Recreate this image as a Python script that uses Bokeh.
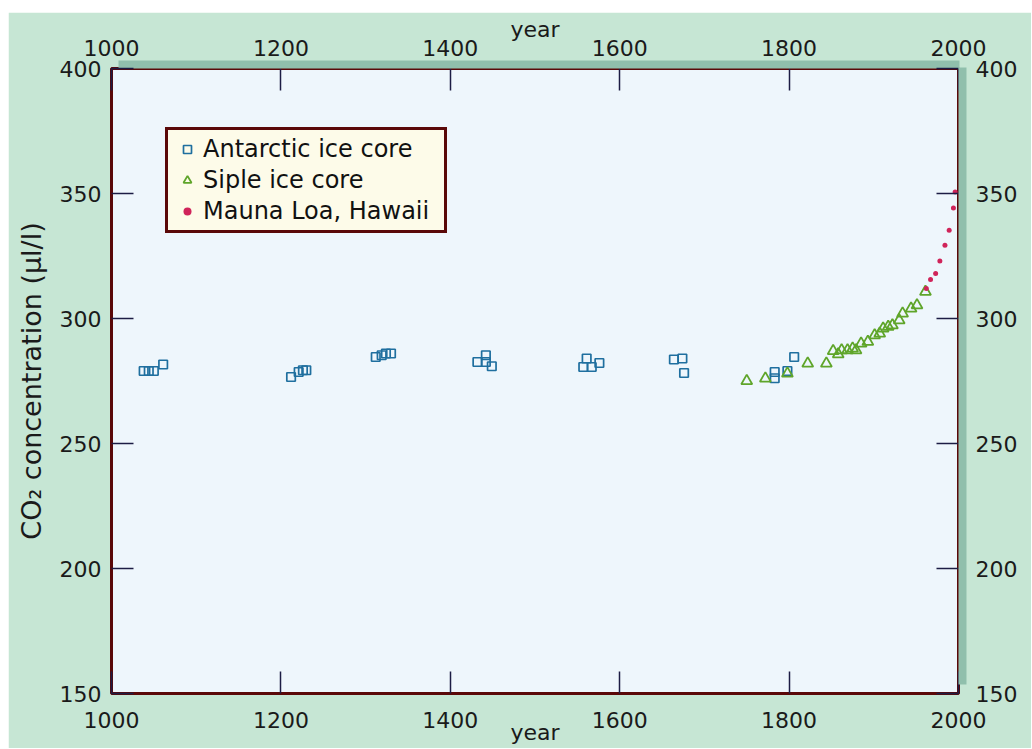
from bokeh.plotting import figure
from bokeh.layouts import column, row
from bokeh.models import Range1d, LinearAxis, FixedTicker, Spacer
from bokeh.embed import file_html
from bokeh.resources import INLINE

# ---------------- data ----------------
x_ticks = [1000, 1200, 1400, 1600, 1800, 2000]
y_ticks = [150, 200, 250, 300, 350, 400]

antarctic_year = [960, 1038, 1044, 1050, 1061, 1212, 1221, 1226, 1230,
                  1312, 1319, 1324, 1330, 1432, 1442, 1442, 1449,
                  1557, 1561, 1567, 1576, 1664, 1674, 1676,
                  1783, 1783, 1798, 1806]
antarctic_co2 = [281.6, 279.0, 279.0, 279.0, 281.6, 276.6, 278.6, 279.3, 279.3,
                 284.6, 285.3, 286.0, 286.0, 282.6, 285.3, 282.6, 280.9,
                 280.6, 284.0, 280.6, 282.2, 283.6, 284.0, 278.2,
                 278.6, 276.1, 279.0, 284.6]

siple_year = [1750, 1772, 1798, 1822, 1844, 1852, 1858, 1862, 1869, 1875, 1879,
              1885, 1893, 1901, 1907, 1911, 1917, 1922, 1930, 1934, 1944, 1951, 1961]
siple_co2 = [275.0, 276.0, 278.0, 282.0, 282.0, 287.0, 285.7, 287.3, 287.3, 288.0, 287.3,
             290.0, 290.7, 293.3, 294.0, 296.0, 296.7, 297.3, 299.3, 302.0, 304.0, 305.3, 310.7]

mauna_year = [1962, 1967, 1973, 1978, 1984, 1989, 1994, 1996]
mauna_co2 = [312.0, 315.6, 318.0, 323.0, 329.3, 335.3, 344.2, 350.6]

series_labels = ["Antarctic ice core", "Siple ice core", "Mauna Loa, Hawaii"]

# ---------------- styling ----------------
X0, X1 = 1000, 2000
Y0, Y1 = 150, 400
FRAME_W, FRAME_H = 847, 625
BORDER_L, BORDER_T = 103, 56
W, H = 1023, 736
PAGE_OFF_X, PAGE_OFF_Y = 8, 12

GREEN = "#c6e6d4"
SHADOW = "#90bfac"
FRAME_BG = "#eef6fc"
DARK_RED = "#5a0808"
TICK = "#1c1c44"
FONT = "DejaVu Sans"

p = figure(width=W, height=H,
           x_range=Range1d(X0, X1), y_range=Range1d(Y0, Y1),
           output_backend="svg", toolbar_location=None,
           min_border_left=BORDER_L, min_border_right=W - BORDER_L - FRAME_W,
           min_border_top=BORDER_T, min_border_bottom=H - BORDER_T - FRAME_H,
           background_fill_color=FRAME_BG, border_fill_color=GREEN,
           outline_line_color=DARK_RED, outline_line_width=3)
p.grid.visible = False

top_axis = LinearAxis()
right_axis = LinearAxis()
p.add_layout(top_axis, "above")
p.add_layout(right_axis, "right")
bottom_axis = p.below[0]
left_axis = p.left[0]

# drop shadow (8px, up and right) drawn as dense outward minor ticks
shadow_x = [X0 + 10 + i for i in range(int(X1 - X0 - 9))]
shadow_y = [Y0 + 4 + 0.4 * i for i in range(int((Y1 - Y0 - 4) / 0.4) + 1)]

for ax, ticks, minor in ((bottom_axis, x_ticks, []), (top_axis, x_ticks, shadow_x),
                         (left_axis, y_ticks, []), (right_axis, y_ticks, shadow_y)):
    ax.ticker = FixedTicker(ticks=ticks, minor_ticks=minor)
    ax.axis_line_color = None
    ax.major_tick_in = 22
    ax.major_tick_out = 0
    ax.major_tick_line_color = TICK
    ax.major_tick_line_width = 1.5
    ax.minor_tick_in = 0
    ax.minor_tick_out = 8 if minor else 0
    ax.minor_tick_line_color = SHADOW if minor else None
    ax.minor_tick_line_width = 2
    ax.major_label_text_font = FONT
    ax.major_label_text_font_size = "22px"
    ax.major_label_text_color = "#1a1a1a"
    ax.axis_label_text_font = FONT
    ax.axis_label_text_font_style = "normal"
    ax.axis_label_text_color = "#1a1a1a"
    ax.axis_label_text_font_size = "22px"

bottom_axis.axis_label = "year"
bottom_axis.major_label_standoff = 18
bottom_axis.axis_label_standoff = -11

top_axis.axis_label = "year"
top_axis.major_label_standoff = 5
top_axis.axis_label_standoff = -5

left_axis.axis_label = "CO\u2082 concentration (\u00b5l/l)"
left_axis.axis_label_text_font_size = "27px"
left_axis.major_label_standoff = 10
left_axis.axis_label_standoff = 10

right_axis.major_label_standoff = 9

p.scatter(antarctic_year, antarctic_co2, marker="square", size=8.5,
          line_color="#1f6f9f", fill_color=None, line_width=1.7,
          legend_label=series_labels[0])
p.scatter(siple_year, siple_co2, marker="triangle", size=11,
          line_color="#5fa52a", fill_color=None, line_width=1.8,
          legend_label=series_labels[1])
p.scatter(mauna_year, mauna_co2, marker="circle", size=5,
          line_color=None, fill_color="#d0245a",
          legend_label=series_labels[2])

legend = p.legend[0]
legend.location = (54, 460)
legend.background_fill_color = "#fdfbe9"
legend.background_fill_alpha = 1
legend.border_line_color = DARK_RED
legend.border_line_width = 3
legend.border_line_alpha = 1
legend.label_text_font = FONT
legend.label_text_font_size = "24px"
legend.label_text_color = "#111111"
legend.padding = 5
legend.glyph_width = 28
legend.glyph_height = 20
legend.label_height = 24
legend.label_standoff = 2
legend.label_width = 236
legend.spacing = 3
legend.margin = 0

page = column(Spacer(width=W + PAGE_OFF_X, height=PAGE_OFF_Y),
              row(Spacer(width=PAGE_OFF_X, height=H), p))

open("out.html", "w").write(file_html(page, INLINE, title="CO2 concentration"))
